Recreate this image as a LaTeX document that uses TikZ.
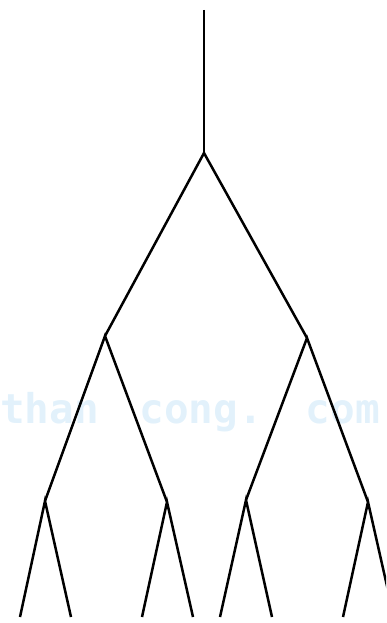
\documentclass[tikz,border=0pt]{standalone}
\usepackage{fontspec}
\newfontfamily\wmfont{DejaVu Sans Mono}
\definecolor{wmblue}{RGB}{226,241,251}
\begin{document}
\begin{tikzpicture}[x=1pt,y=-1pt,
  branch/.style={line width=2.5pt,black,line join=miter},
  wmark/.style={inner sep=0pt,anchor=base west,text=wmblue,font=\wmfont\bfseries\fontsize{41}{41}\selectfont}]
\useasboundingbox (0,0) rectangle (386,623);
\clip (0,0) rectangle (386,623);
\node[wmark] (wm) at (0,423) {\frenchspacing than\hspace{16pt} cong.\hspace{18pt} com};
\coordinate (top) at (204,10);
\coordinate (r) at (204,153);
\coordinate (a) at (105,336);
\coordinate (b) at (307,338);
\coordinate (aa) at (45,501);
\coordinate (ab) at (167,502);
\coordinate (ba) at (246,500);
\coordinate (bb) at (368,502);
\coordinate (l1) at (20,617);
\coordinate (l2) at (71,617);
\coordinate (l3) at (142,617);
\coordinate (l4) at (193,617);
\coordinate (l5) at (220,617);
\coordinate (l6) at (272,617);
\coordinate (l7) at (343,617);
\coordinate (l8) at (394,617);
\draw[branch] (top) -- (r);
\draw[branch] (a) -- (r) -- (b);
\draw[branch] (aa) -- (a) -- (ab);
\draw[branch] (ba) -- (b) -- (bb);
\draw[branch] (l1) -- (aa) -- (l2);
\draw[branch] (l3) -- (ab) -- (l4);
\draw[branch] (l5) -- (ba) -- (l6);
\draw[branch] (l7) -- (bb) -- (l8);
\end{tikzpicture}
\end{document}
